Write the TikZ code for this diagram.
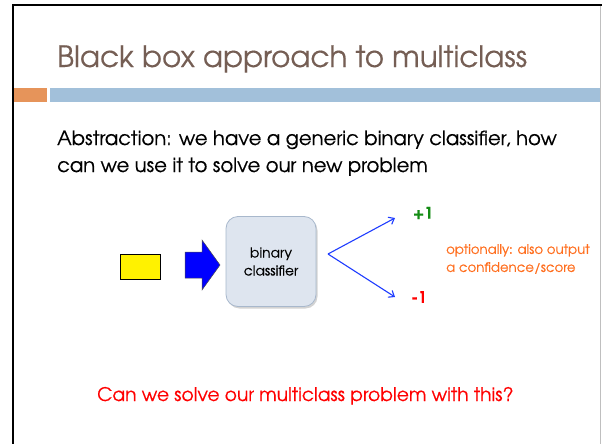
\documentclass[tikz,border=0pt]{standalone}
\usepackage{fontspec}
\setmainfont{TeX Gyre Adventor}[FakeBold=0.35]
\usetikzlibrary{arrows.meta,shadows}
\definecolor{titlebrown}{RGB}{117,94,84}
\definecolor{barorange}{RGB}{230,148,90}
\definecolor{barblue}{RGB}{162,192,218}
\definecolor{boxfill}{RGB}{222,229,239}
\definecolor{boxline}{RGB}{168,184,204}
\definecolor{arrowblue}{RGB}{30,60,255}
\definecolor{plusgreen}{RGB}{20,140,20}
\definecolor{noteorange}{RGB}{255,110,30}
\tikzset{
  bodytext/.style={anchor=base west, inner sep=0pt, font=\fontsize{19.6}{27}\selectfont},
  classbox/.style={draw=boxline, fill=boxfill, rounded corners=12pt, minimum width=90pt,
    minimum height=90pt, line width=0.8pt, align=center,
    drop shadow={shadow xshift=1.5pt, shadow yshift=-2pt, opacity=0.35},
    font=\fontsize{13.8}{18}\selectfont},
  outarrow/.style={arrowblue, line width=1.1pt, -{Straight Barb[length=5pt,width=8pt]}},
  label/.style={inner sep=0pt, font=\bfseries\fontsize{16}{18}\selectfont}
}
\begin{document}
\begin{tikzpicture}[x=1pt, y=-1pt]
  \useasboundingbox (0,0) rectangle (602,444);
  % slide frame
  \draw[line width=2.5pt] (13,444) -- (13,5) -- (602,5);
  \draw[gray!50, line width=1pt] (600.5,6) -- (600.5,444);
  % title and rule bars
  \node[anchor=base west, inner sep=0pt, text=titlebrown,
        font=\fontsize{29.4}{32}\selectfont] (title) at (57,67) {Black box approach to multiclass};
  \fill[barorange] (14,88) rectangle (47,102);
  \fill[barblue] (50,88) rectangle (599.5,102);
  % body text
  \node[bodytext] (l1) at (57,145) {Abstraction: we have a generic binary classifier, how};
  \node[bodytext] (l2) at (57,172) {can we use it to solve our new problem};
  % diagram
  \node[draw=black, fill=yellow, line width=0.6pt, minimum width=40pt, minimum height=25pt,
        inner sep=0pt] (input) at (140,266.5) {};
  \draw[fill=blue, draw=black!70, line width=0.5pt]
    (185,252) -- (202,252) -- (202,240) -- (220,265) -- (202,290) -- (202,278) -- (185,278) -- cycle;
  \node[classbox] (clf) at (271,261.5) {binary\\classifier};
  \coordinate (fork) at (328,254);
  \node[label, text=plusgreen] (plus) at (423,213) {+1};
  \node[label, text=red] (minus) at (419,297) {-1};
  \draw[outarrow] (fork) -- (395,218);
  \draw[outarrow] (fork) -- (395,297);
  \node[anchor=west, align=left, inner sep=0pt, text=noteorange,
        font=\fontsize{13.3}{18}\selectfont] (note) at (446,259) {optionally: also output\\a confidence/score};
  % closing question
  \node[anchor=base west, inner sep=0pt, text=red, font=\fontsize{18.7}{20}\selectfont]
    (question) at (97,401) {Can we solve our multiclass problem with this?};
\end{tikzpicture}
\end{document}
